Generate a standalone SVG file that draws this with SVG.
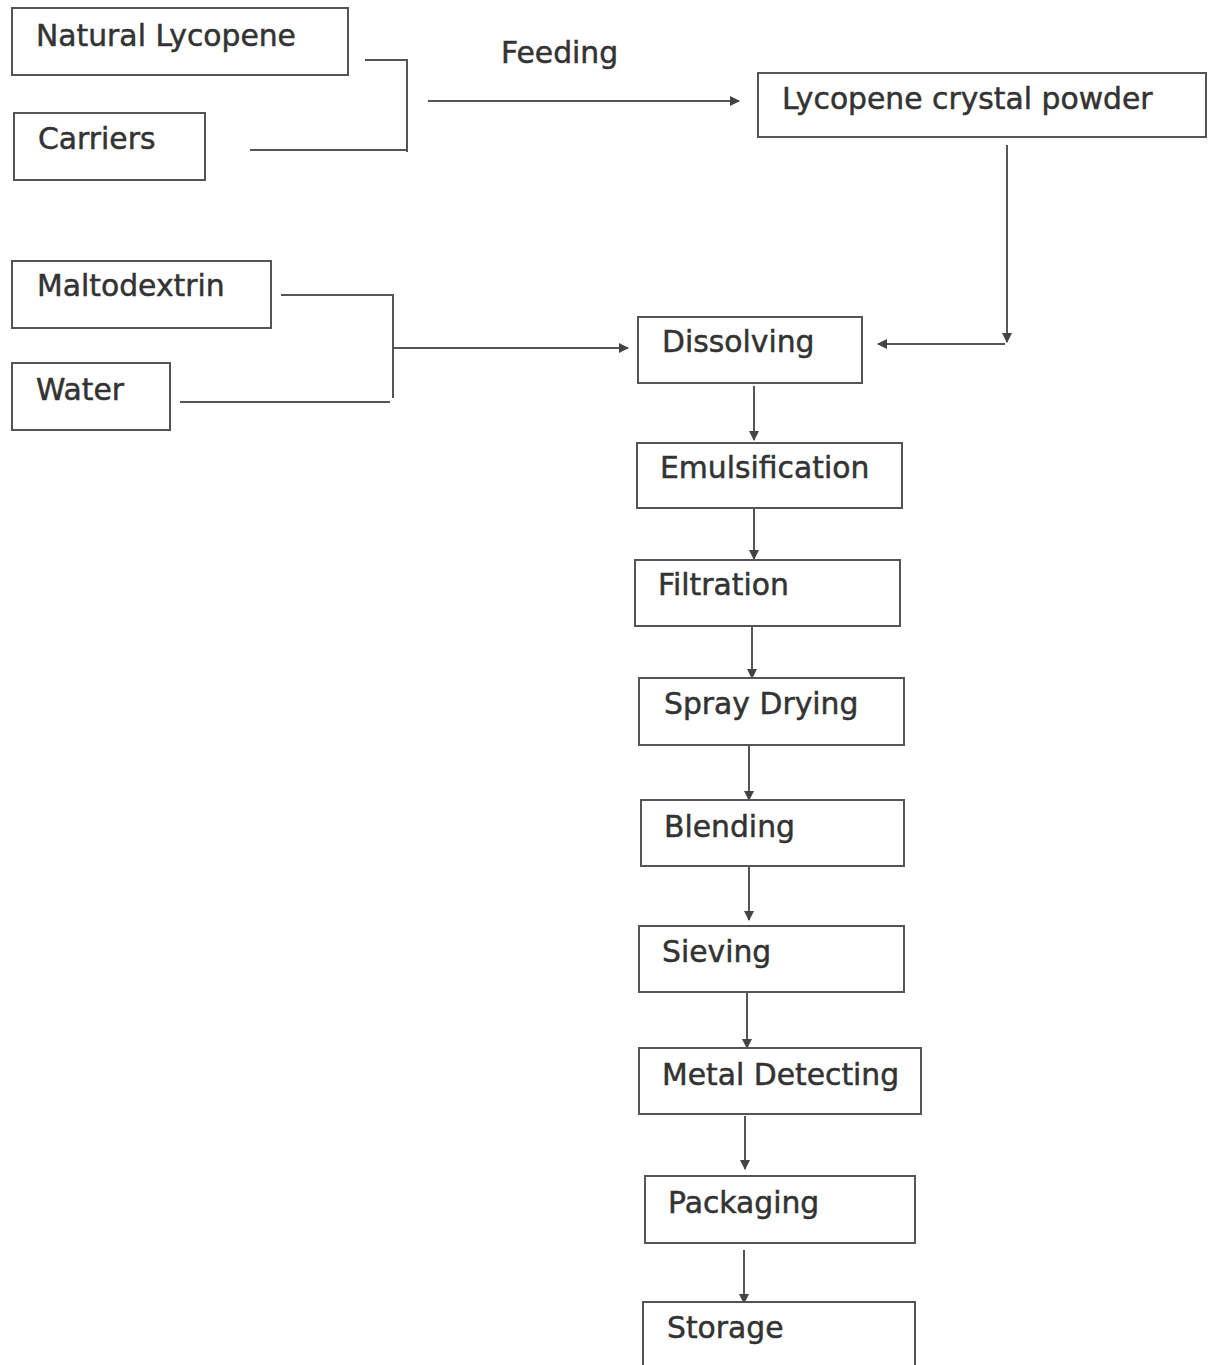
<svg xmlns="http://www.w3.org/2000/svg" width="1208" height="1365" viewBox="0 0 1208 1365">
<style>
.box{fill:#fff;stroke:#555;stroke-width:2}
.lbl{font-family:"DejaVu Sans",sans-serif;font-size:29.8px;fill:#333;stroke:#333;stroke-width:0.5}
.con{fill:none;stroke:#555;stroke-width:2}
</style>
<defs>
<marker id="ah" viewBox="0 0 10 10" refX="9" refY="5" markerWidth="5" markerHeight="5" orient="auto" markerUnits="strokeWidth">
<path d="M0,0 L10,5 L0,10 z" fill="#444"/>
</marker>
</defs>
<rect width="1208" height="1365" fill="#fff"/>
<g id="connectors">
<polyline class="con" points="365,60 407,60 407,152"/>
<line class="con" x1="250" y1="150" x2="407" y2="150"/>
<line class="con" x1="428" y1="101" x2="739" y2="101" marker-end="url(#ah)"/>
<polyline class="con" points="1007,145 1007,342" marker-end="url(#ah)"/>
<line class="con" x1="1005" y1="344" x2="878" y2="344" marker-end="url(#ah)"/>
<polyline class="con" points="281,295 393,295 393,398"/>
<line class="con" x1="180" y1="402" x2="390" y2="402"/>
<line class="con" x1="393" y1="348" x2="628" y2="348" marker-end="url(#ah)"/>
<line class="con" x1="754" y1="386" x2="754" y2="440" marker-end="url(#ah)"/>
<line class="con" x1="754" y1="508" x2="754" y2="559" marker-end="url(#ah)"/>
<line class="con" x1="752" y1="626" x2="752" y2="678" marker-end="url(#ah)"/>
<line class="con" x1="749" y1="745" x2="749" y2="800" marker-end="url(#ah)"/>
<line class="con" x1="749" y1="866" x2="749" y2="920" marker-end="url(#ah)"/>
<line class="con" x1="747" y1="992" x2="747" y2="1048" marker-end="url(#ah)"/>
<line class="con" x1="745" y1="1116" x2="745" y2="1169" marker-end="url(#ah)"/>
<line class="con" x1="744" y1="1250" x2="744" y2="1303" marker-end="url(#ah)"/>
</g>
<g id="natural-lycopene"><rect class="box" x="12" y="8" width="336" height="67"/><text class="lbl" x="36" y="46">Natural Lycopene</text></g>
<g id="carriers"><rect class="box" x="14" y="113" width="191" height="67"/><text class="lbl" x="38" y="149">Carriers</text></g>
<g id="feeding"><text class="lbl" x="501" y="63">Feeding</text></g>
<g id="lycopene-crystal-powder"><rect class="box" x="758" y="73" width="448" height="64"/><text class="lbl" x="782" y="109">Lycopene crystal powder</text></g>
<g id="maltodextrin"><rect class="box" x="12" y="261" width="259" height="67"/><text class="lbl" x="37" y="296">Maltodextrin</text></g>
<g id="water"><rect class="box" x="12" y="363" width="158" height="67"/><text class="lbl" x="36" y="400">Water</text></g>
<g id="dissolving"><rect class="box" x="638" y="317" width="224" height="66"/><text class="lbl" x="662" y="352">Dissolving</text></g>
<g id="emulsification"><rect class="box" x="637" y="443" width="265" height="65"/><text class="lbl" x="660" y="478">Emulsification</text></g>
<g id="filtration"><rect class="box" x="635" y="560" width="265" height="66"/><text class="lbl" x="658" y="595">Filtration</text></g>
<g id="spray-drying"><rect class="box" x="639" y="678" width="265" height="67"/><text class="lbl" x="664" y="714">Spray Drying</text></g>
<g id="blending"><rect class="box" x="641" y="800" width="263" height="66"/><text class="lbl" x="664" y="837">Blending</text></g>
<g id="sieving"><rect class="box" x="639" y="926" width="265" height="66"/><text class="lbl" x="662" y="962">Sieving</text></g>
<g id="metal-detecting"><rect class="box" x="639" y="1048" width="282" height="66"/><text class="lbl" x="662" y="1085">Metal Detecting</text></g>
<g id="packaging"><rect class="box" x="645" y="1176" width="270" height="67"/><text class="lbl" x="668" y="1213">Packaging</text></g>
<g id="storage"><rect class="box" x="643" y="1302" width="272" height="80"/><text class="lbl" x="667" y="1338">Storage</text></g>
</svg>
